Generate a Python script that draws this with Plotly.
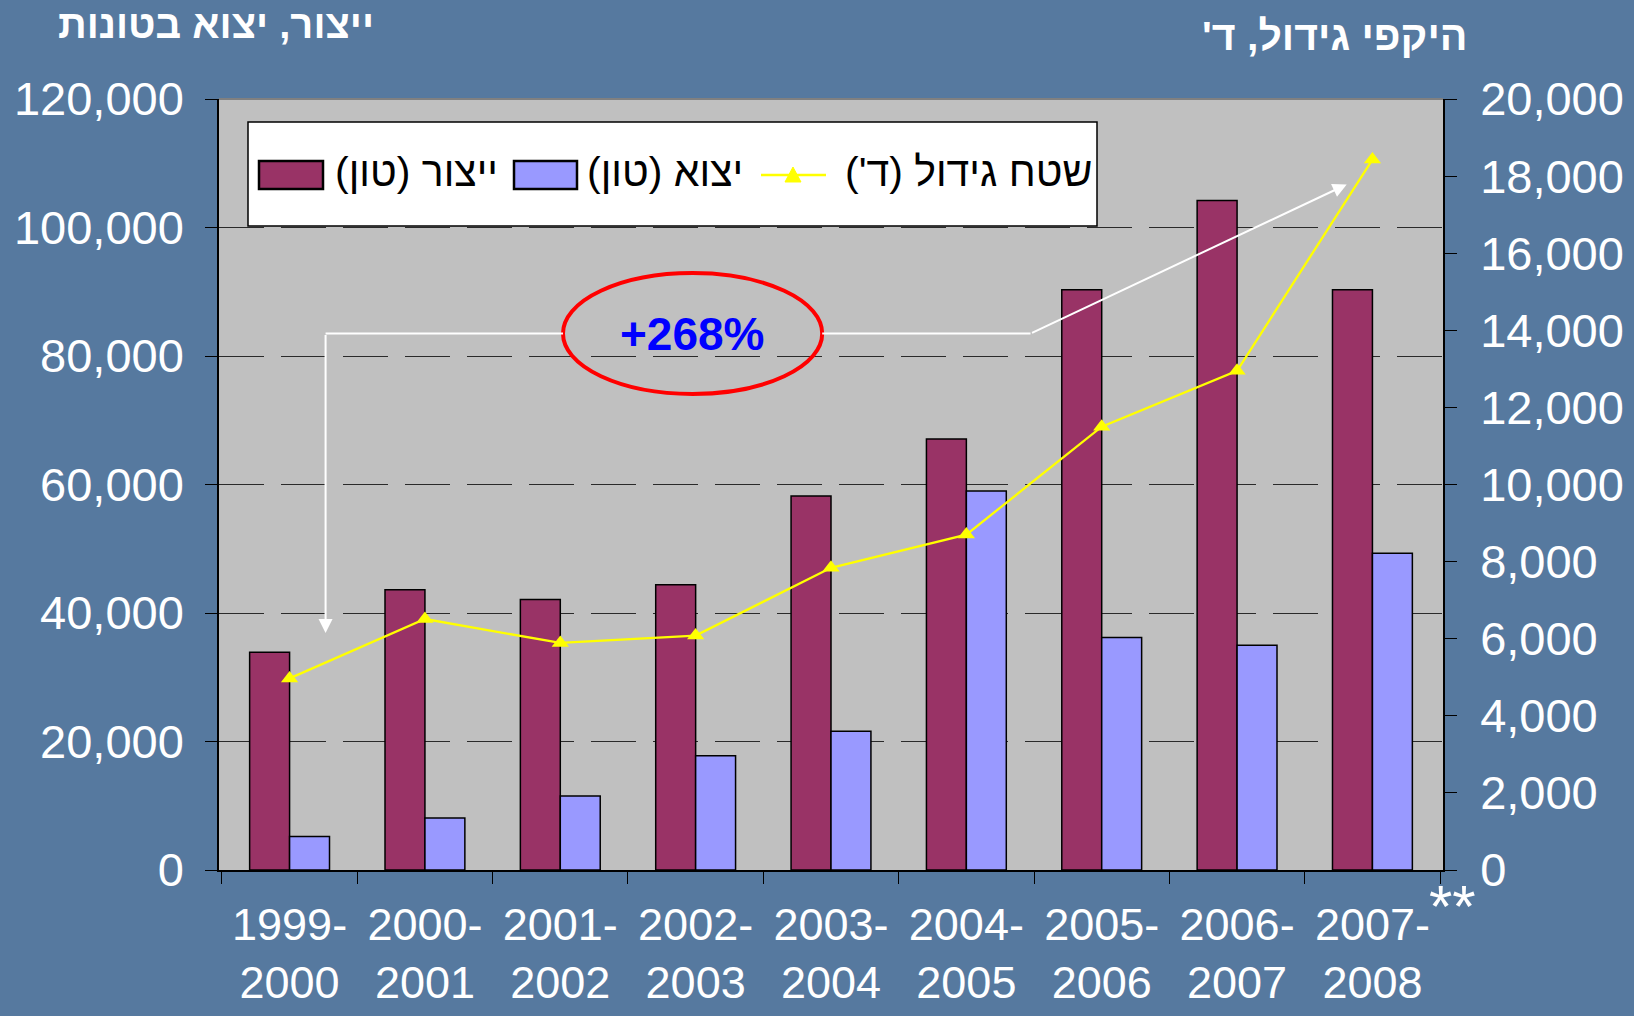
import plotly.graph_objects as go

# נתונים
seasons = ["1999-2000", "2000-2001", "2001-2002", "2002-2003", "2003-2004",
           "2004-2005", "2005-2006", "2006-2007", "2007-2008"]
production_ton = [33900, 43600, 42100, 44400, 58200, 67100, 90300, 104200, 90300]
export_ton = [5200, 8100, 11500, 17800, 21600, 59000, 36200, 35000, 49300]
area_dunam = [4970, 6510, 5890, 6080, 7840, 8700, 11500, 12950, 18430]

series_names = ["ייצור (טון)", "יצוא (טון)", "שטח גידול (ד')"]
tick_labels = [s.replace("-", "-<br>") for s in seasons]

RLM = "\u200f"
font_family = "Liberation Sans, Arial, sans-serif"
bg = "#56799f"
maroon = "#993366"
lilac = "#9999FF"
yellow = "#FFFF00"

W, H = 1634, 1016
L, R, T, B = 219, 191, 99, 146
PW, PH = W - L - R, H - T - B


def px(x):
    return (x - L) / PW


def py(y):
    return (H - B - y) / PH


fig = go.Figure()

fig.add_trace(go.Bar(
    x=seasons, y=production_ton, name=series_names[0] + RLM,
    marker=dict(color=maroon, line=dict(color="black", width=1.5)),
))
fig.add_trace(go.Bar(
    x=seasons, y=export_ton, name=series_names[1] + RLM,
    marker=dict(color=lilac, line=dict(color="black", width=1.5)),
))
fig.add_trace(go.Scatter(
    x=seasons, y=area_dunam, name=series_names[2] + RLM, yaxis="y2",
    mode="lines+markers",
    line=dict(color=yellow, width=2.3),
    marker=dict(symbol="triangle-up", size=15, color=yellow),
))

fig.update_layout(
    width=W, height=H,
    margin=dict(l=L, r=R, t=T, b=B, autoexpand=False),
    paper_bgcolor=bg, plot_bgcolor="#C0C0C0",
    font=dict(family=font_family, color="white", size=47),
    barmode="group", bargap=0.41, bargroupgap=0,
    showlegend=False,
    xaxis=dict(
        type="category", tickmode="array", tickvals=seasons, ticktext=tick_labels,
        showline=True, linecolor="black", linewidth=1.5,
        ticks="outside", ticklen=12, tickcolor="black", tickson="boundaries",
        showgrid=False, tickfont=dict(size=45, color="white"),
        ticklabelstandoff=14, automargin=False,
    ),
    yaxis=dict(
        range=[0, 120000], dtick=20000, tickformat=",",
        showline=True, linecolor="black", linewidth=1.5,
        ticks="outside", ticklen=12, tickcolor="black",
        showgrid=True, gridcolor="#2a2a2a", griddash="45px,17px", gridwidth=1.3,
        zeroline=False, tickfont=dict(size=47, color="white"),
        ticklabelstandoff=12, automargin=False,
    ),
    yaxis2=dict(
        range=[0, 20000], dtick=2000, tickformat=",", overlaying="y", side="right",
        showline=True, linecolor="black", linewidth=1.5,
        ticks="outside", ticklen=12, tickcolor="black",
        showgrid=False, zeroline=False, tickfont=dict(size=47, color="white"),
        ticklabelstandoff=14, automargin=False,
    ),
)

# קו עליון אפור של אזור השרטוט
fig.add_shape(type="line", xref="paper", yref="paper", x0=0, x1=1, y0=1, y1=1,
              line=dict(color="#808080", width=2))

# מקרא
fig.add_shape(type="rect", xref="paper", yref="paper", layer="above",
              x0=px(248), x1=px(1097), y0=py(226), y1=py(122),
              fillcolor="white", line=dict(color="black", width=1.5))
for x0, x1, color in [(259, 323, maroon), (514, 577, lilac)]:
    fig.add_shape(type="rect", xref="paper", yref="paper", layer="above",
                  x0=px(x0), x1=px(x1), y0=py(189), y1=py(161),
                  fillcolor=color, line=dict(color="black", width=2.5))
fig.add_shape(type="line", xref="paper", yref="paper", layer="above",
              x0=px(761), x1=px(826), y0=py(175), y1=py(175),
              line=dict(color=yellow, width=2.5))
fig.add_shape(type="path", xref="paper", yref="paper", layer="above",
              path="M {:.5f} {:.5f} L {:.5f} {:.5f} L {:.5f} {:.5f} Z".format(
                  px(785), py(182), px(801), py(182), px(793), py(167)),
              fillcolor=yellow, line=dict(color=yellow, width=1))
for name, xr in zip(series_names, [500, 745, 1094]):
    fig.add_annotation(x=px(xr), y=py(172), xref="paper", yref="paper",
                       xanchor="right", yanchor="middle", showarrow=False,
                       text=name + RLM,
                       font=dict(size=41, color="black", family=font_family))

# אליפסה + טקסט
fig.add_shape(type="circle", xref="x", yref="y", x0=2.02, x1=3.935, y0=74100, y1=92900,
              line=dict(color="red", width=4))
fig.add_annotation(x=2.977, y=83500, xref="x", yref="y", text="<b>+268%</b>",
                   xanchor="center", yanchor="middle", showarrow=False,
                   font=dict(size=46, color="#0000FF", family=font_family))

# חיצים לבנים
fig.add_shape(type="line", xref="x", yref="y", x0=0.266, x1=2.02, y0=83500, y1=83500,
              line=dict(color="white", width=2))
fig.add_shape(type="line", xref="x", yref="y", x0=3.935, x1=5.474, y0=83500, y1=83500,
              line=dict(color="white", width=2))
fig.add_annotation(x=0.266, y=36900, ax=0.266, ay=83500, xref="x", yref="y",
                   axref="x", ayref="y", text="", showarrow=True,
                   arrowhead=2, arrowsize=1.4, arrowwidth=2, arrowcolor="white")
fig.add_annotation(x=7.81, y=106700, ax=5.474, ay=83500, xref="x", yref="y",
                   axref="x", ayref="y", text="", showarrow=True,
                   arrowhead=2, arrowsize=1.4, arrowwidth=2, arrowcolor="white")

# כותרות צירים
fig.add_annotation(x=px(216), y=py(24), xref="paper", yref="paper",
                   xanchor="center", yanchor="middle",
                   text="<b>ייצור, יצוא בטונות</b>", showarrow=False,
                   font=dict(size=40, color="white", family=font_family))
fig.add_annotation(x=px(1334), y=py(36), xref="paper", yref="paper",
                   xanchor="center", yanchor="middle",
                   text="<b>היקפי גידול, ד'" + RLM + "</b>", showarrow=False,
                   font=dict(size=41, color="white", family=font_family))

# ** ליד 2007-2008
fig.add_annotation(x=px(1452), y=py(906), xref="paper", yref="paper", text="**",
                   xanchor="center", yanchor="middle",
                   showarrow=False, font=dict(size=60, color="white", family=font_family))

fig.write_html("out.html", config={"displayModeBar": False},
               post_script="document.body.style.margin='0';document.body.style.overflow='hidden';")
